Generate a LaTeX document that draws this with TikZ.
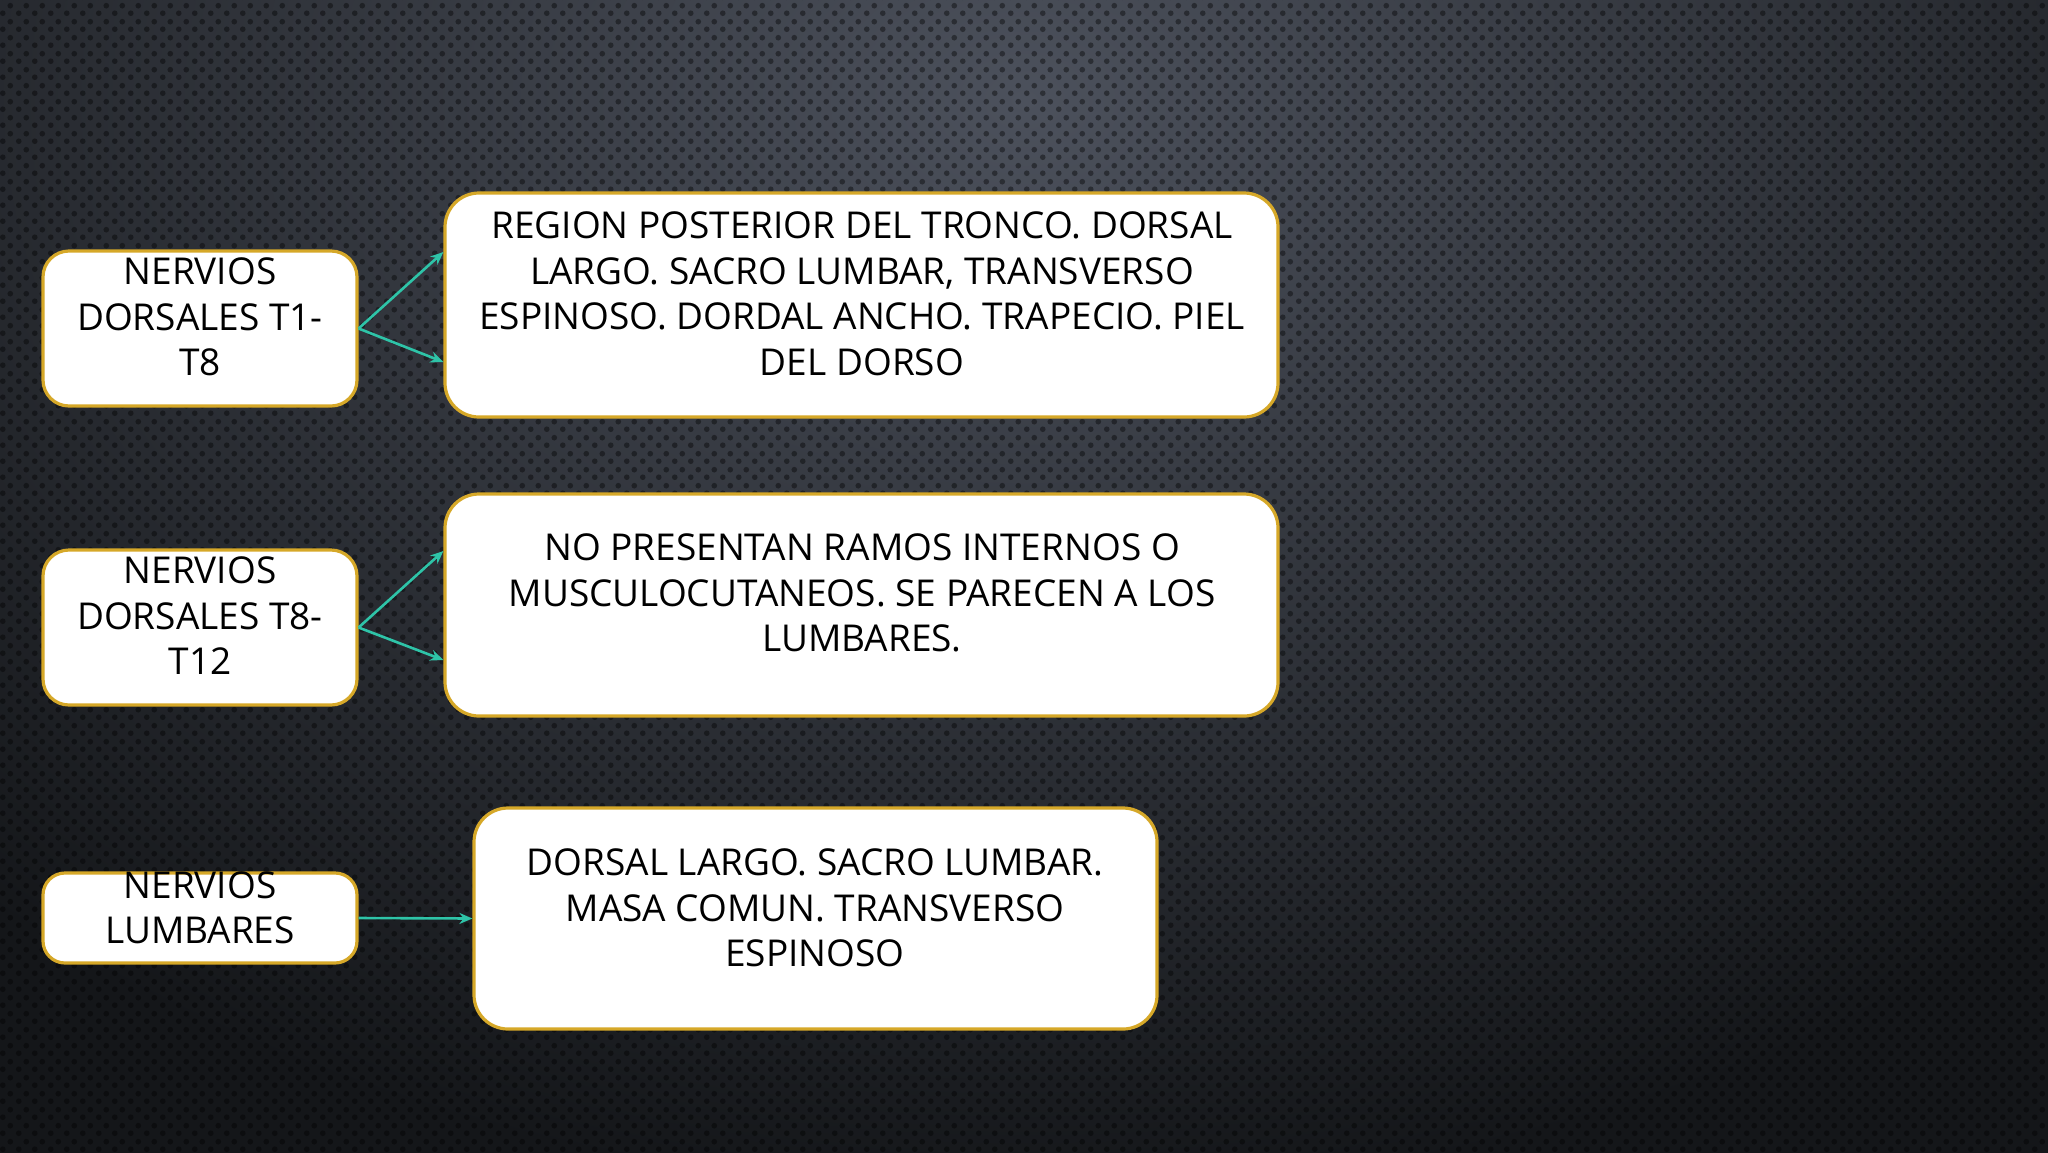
\documentclass[tikz,border=0pt]{standalone}
\usepackage{fontspec}
\setmainfont{Open Sans}
\usetikzlibrary{arrows.meta,patterns.meta}
\definecolor{gold}{HTML}{D6A828}
\definecolor{teal}{HTML}{2EC4A8}
\definecolor{bgtop}{HTML}{4C515C}
\definecolor{bgbot}{HTML}{141619}
\tikzdeclarepattern{name=bgdots, type=uncolored,
  bounding box={(0pt,0pt) and (16pt,16pt)}, tile size={(16pt,16pt)},
  code={\fill (4pt,4pt) circle (3pt); \fill (12pt,12pt) circle (3pt);}}
\tikzset{
  box/.style={draw=gold, line width=3.2pt, fill=white, rounded corners=#1, inner sep=0pt},
  box/.default=26pt,
  txt/.style={align=center, font=\fontsize{37}{45.5}\selectfont, inner sep=0pt, text=black},
  conn/.style={draw=teal, line width=2.6pt, -{Stealth[length=13pt,width=11pt]}},
}
\begin{document}
\begin{tikzpicture}[x=1pt,y=-1pt]
\useasboundingbox (0,0) rectangle (2048,1152);
\begin{scope}
\clip (0,0) rectangle (2048,1152);
\fill[bgbot] (0,0) rectangle (2048,1152);
\shade[inner color=bgtop, outer color=bgbot] (-500,-1000) rectangle (2548,1200);
\end{scope}
\fill[pattern={bgdots}, pattern color=black, fill opacity=0.4] (0,0) rectangle (2048,1152);

% left boxes
\node[box, minimum width=314pt, minimum height=155pt] (a1) at (200,328.5) {};
\node[txt] (a1t) at (200,317) {NERVIOS\\DORSALES T1-\\T8};
\node[box, minimum width=314pt, minimum height=155pt] (a2) at (200,627.5) {};
\node[txt] (a2t) at (200,616) {NERVIOS\\DORSALES T8-\\T12};
\node[box=22pt, minimum width=314pt, minimum height=90pt] (a3) at (200,918) {};
\node[txt] (a3t) at (200,908) {NERVIOS\\LUMBARES};

% right boxes
\node[box=34pt, minimum width=833pt, minimum height=224pt] (b1) at (861.5,305) {};
\node[txt] (b1t) at (862,294) {REGION POSTERIOR DEL TRONCO. DORSAL\\LARGO. SACRO LUMBAR, TRANSVERSO\\ESPINOSO. DORDAL ANCHO. TRAPECIO. PIEL\\DEL DORSO};
\node[box=34pt, minimum width=833pt, minimum height=222pt] (b2) at (861.5,605) {};
\node[txt] (b2t) at (862,593) {NO PRESENTAN RAMOS INTERNOS O\\MUSCULOCUTANEOS. SE PARECEN A LOS\\LUMBARES.};
\node[box=34pt, minimum width=683pt, minimum height=221pt] (b3) at (815.5,918.5) {};
\node[txt] (b3t) at (815,908) {DORSAL LARGO. SACRO LUMBAR.\\MASA COMUN. TRANSVERSO\\ESPINOSO};

% connectors
\coordinate (s1) at (a1.east);
\draw[conn] (s1) -- (b1.west |- 0,252);
\draw[conn] (s1) -- (b1.west |- 0,362);
\coordinate (s2) at (a2.east);
\draw[conn] (s2) -- (b2.west |- 0,551);
\draw[conn] (s2) -- (b2.west |- 0,660);
\draw[conn] (a3.east) -- (b3.west);
\end{tikzpicture}
\end{document}
